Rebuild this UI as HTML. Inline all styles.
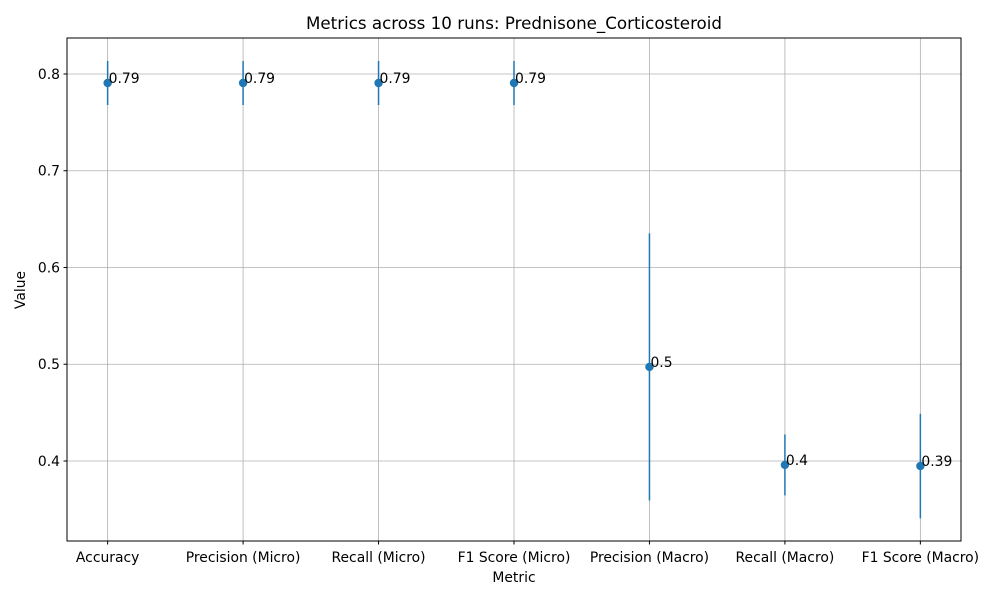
<!DOCTYPE html>
<html><head><meta charset="utf-8"><style>
body{margin:0;background:#fff;}
svg text{font-family:"DejaVu Sans","Liberation Sans",sans-serif;}
</style></head><body>
<svg id="chart" width="1000" height="600" xmlns="http://www.w3.org/2000/svg">
<rect width="1000" height="600" fill="#fff"/>
<text x="514" y="29" font-size="16.7" text-anchor="middle" fill="#000">Metrics across 10 runs: Prednisone_Corticosteroid</text>
<g id="grid"></g>
<g id="marks"></g>
<rect x="67" y="38" width="894" height="503" fill="none" stroke="#000" stroke-width="1"/>
<text x="514" y="582" font-size="13.9" text-anchor="middle">Metric</text>
<text x="25" y="290" font-size="13.9" text-anchor="middle" transform="rotate(-90 25 290)">Value</text>
</svg>
<script>
const categories=["Accuracy","Precision (Micro)","Recall (Micro)","F1 Score (Micro)","Precision (Macro)","Recall (Macro)","F1 Score (Macro)"];
const values=[0.7907,0.7907,0.7907,0.7907,0.4972,0.3959,0.3948];
const errors=[0.0228,0.0228,0.0228,0.0228,0.138,0.0315,0.054];
const labels=["0.79","0.79","0.79","0.79","0.5","0.4","0.39"];
const yTicks=[0.4,0.5,0.6,0.7,0.8];
const yTickLabels=["0.4","0.5","0.6","0.7","0.8"];
const L=67,R=961,T=38,B=541,ymin=0.3173,ymax=0.8372;
const xs=i=>L+(i+0.3)/(categories.length-1+0.6)*(R-L);
const ys=v=>B-(v-ymin)/(ymax-ymin)*(B-T);
const NS="http://www.w3.org/2000/svg";
const grid=document.getElementById('grid'),marks=document.getElementById('marks'),svg=document.getElementById('chart');
function mk(tag,attrs,parent){const e=document.createElementNS(NS,tag);for(const k in attrs)e.setAttribute(k,attrs[k]);parent.appendChild(e);return e;}
yTicks.forEach((t,i)=>{const y=ys(t);
const g=mk('line',{x1:L,x2:R,y1:y,y2:y,stroke:'#b0b0b0','stroke-width':0.8},grid);


const tk=mk('line',{x1:L-3.5,x2:L,y1:y,y2:y,stroke:'#000'},svg);


const tx=mk('text',{x:L-7,y:y+5,'font-size':13.9,'text-anchor':'end'},svg);tx.textContent=yTickLabels[i];


});
categories.forEach((c,i)=>{const x=xs(i);
const g=mk('line',{x1:x,x2:x,y1:T,y2:B,stroke:'#b0b0b0','stroke-width':0.8},grid);


const tk=mk('line',{x1:x,x2:x,y1:B,y2:B+3.5,stroke:'#000'},svg);


const tx=mk('text',{x:x,y:B+21,'font-size':13.9,'text-anchor':'middle'},svg);tx.textContent=c;


const v=values[i],e=errors[i];
const eb=mk('line',{x1:x,x2:x,y1:ys(v+e),y2:ys(v-e),stroke:'#1f77b4','stroke-width':1.5},marks);


const p=mk('circle',{cx:x,cy:ys(v),r:4.2,fill:'#1f77b4'},marks);


const lb=mk('text',{x:x+1,y:ys(v),'font-size':13.9},marks);lb.textContent=labels[i];


});
</script>
</body></html>
